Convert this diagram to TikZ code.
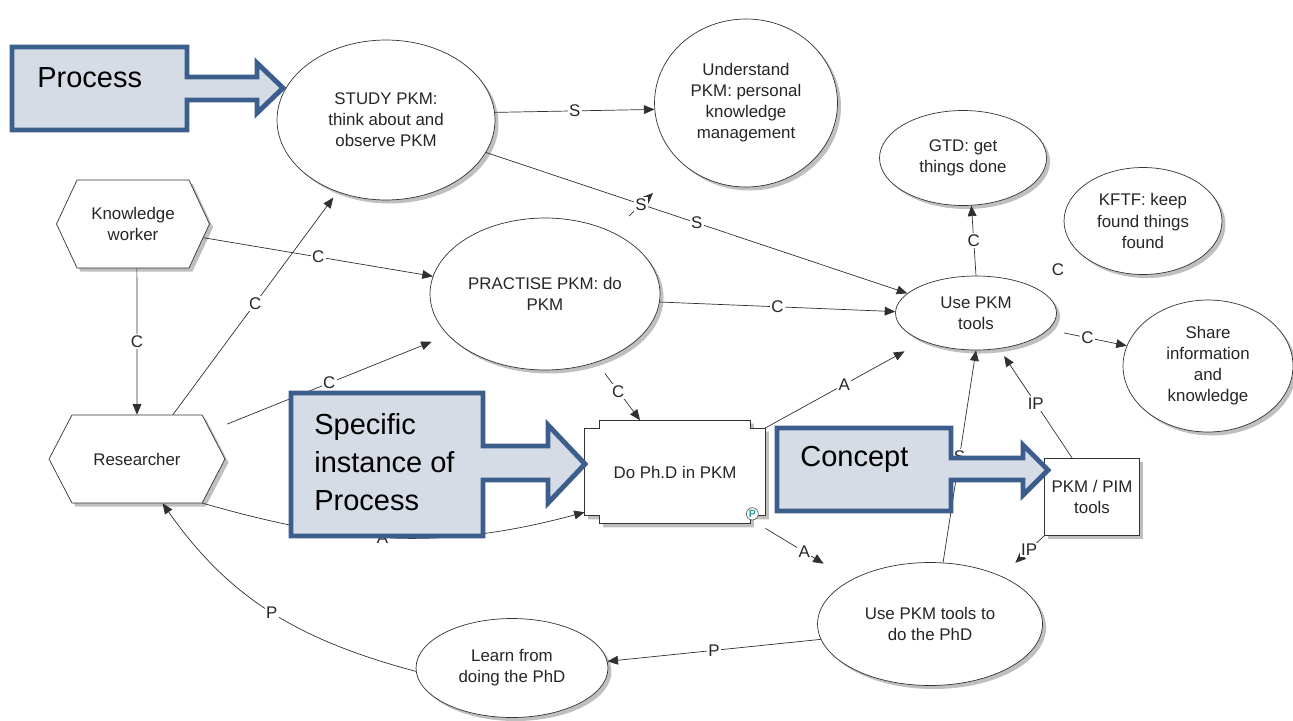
\documentclass[tikz,border=0pt]{standalone}
\usepackage{fontspec}
\setmainfont{Liberation Sans}
\usepackage{tikz}
\usetikzlibrary{shapes.geometric, shapes.symbols, arrows.meta, calc, shadows, backgrounds}

\definecolor{calloutblue}{HTML}{3B5E8C}
\definecolor{calloutfill}{HTML}{D6DCE6}
\definecolor{linkgray}{HTML}{303030}
\definecolor{pteal}{HTML}{2A9D9A}

\begin{document}
\begin{tikzpicture}[
    x=0.02cm, y=0.02cm,
    every node/.style={font=\fontsize{9.6}{12}\selectfont, text=black!85},
    dropsh/.style={drop shadow={shadow xshift=2pt, shadow yshift=-2pt, fill=black!25, opacity=1}},
    bubble/.style={ellipse, draw=black!80, fill=white, inner sep=0pt, align=center, dropsh},
    actor/.style={signal, signal to=east and west, draw=black!80, fill=white, inner sep=0pt, align=center, dropsh},
    toolbox/.style={rectangle, draw=black!80, fill=white, inner sep=0pt, align=center, dropsh},
    link/.style={-{Triangle[length=6pt,width=5pt]}, draw=linkgray, thin},
    lbl/.style={fill=white, inner sep=0.8pt},
    callout/.style={draw=calloutblue, fill=calloutfill, line width=2.8pt, line join=miter},
    callouttext/.style={font=\fontsize{16.5}{21.5}\selectfont, text=black, align=left, anchor=west, inner sep=0pt}
]
\useasboundingbox (0,0) rectangle (1293,-720);

% Processes and goals
\node[bubble, minimum width=4.36cm, minimum height=3.2cm] (study) at (386,-120) {STUDY PKM:\\think about and\\observe PKM};
\node[bubble, minimum width=3.66cm, minimum height=3.36cm] (understand) at (746,-103) {Understand\\PKM: personal\\knowledge\\management};
\node[bubble, minimum width=3.34cm, minimum height=1.9cm] (gtd) at (963,-158) {GTD: get\\things done};
\node[bubble, minimum width=3.16cm, minimum height=2.14cm] (kftf) at (1143,-221) {KFTF: keep\\found things\\found};
\node[bubble, minimum width=3.22cm, minimum height=1.48cm] (usetools) at (976,-313) {Use PKM\\tools};
\node[bubble, minimum width=3.4cm, minimum height=2.64cm] (share) at (1208,-366) {Share\\information\\and\\knowledge};
\node[bubble, minimum width=4.6cm, minimum height=3.04cm] (practise) at (545,-294) {PRACTISE PKM: do\\PKM};
\node[bubble, minimum width=4.5cm, minimum height=2.46cm] (toolsphd) at (930,-624) {Use PKM tools to\\do the PhD};
\node[bubble, minimum width=3.84cm, minimum height=1.98cm] (learn) at (512,-668) {Learn from\\doing the PhD};

% Actors
\node[actor, signal pointer angle=130, minimum width=3.06cm, minimum height=1.76cm] (kworker) at (133,-224) {Knowledge\\worker};
\node[actor, signal pointer angle=125, minimum width=3.52cm, minimum height=1.76cm] (researcher) at (137,-459) {Researcher};

% Specific process and tools
\node[minimum width=3.6cm, minimum height=2.06cm, inner sep=0pt] (phd) at (675,-472) {Do Ph.D in PKM};
\begin{scope}[on background layer]
\draw[draw=black!80, fill=white, dropsh]
  ($(phd.north west)+(15,0)$) -- ($(phd.north east)+(-15,0)$) -- ++(0,-8) -- ++(15,0)
  -- ($(phd.south east)+(0,8)$) -- ++(-15,0) -- ++(0,-8)
  -- ($(phd.south west)+(15,0)$) -- ++(0,8) -- ++(-15,0)
  -- ($(phd.north west)+(0,-8)$) -- ++(15,0) -- cycle;
\end{scope}
\node[ellipse, draw=black!60, fill=white, inner sep=0.4pt, text=pteal, font=\fontsize{6}{6}\selectfont\bfseries] (pmark) at ($(phd.south east)+(-13,10)$) {P};
\node[toolbox, minimum width=1.9cm, minimum height=1.54cm] (pimtools) at (1092,-497) {PKM / PIM\\tools};

% Links
\coordinate (sfrom) at (629,-216);
\coordinate (sto) at (653,-193);
\draw[link] (study.4) -- node[lbl]{S} (understand.184);
\draw[link] (study.342) -- node[lbl]{S} (usetools.164);
\draw[link] (sfrom) -- node[lbl]{S} (sto);
\draw[link] (kworker.349) -- node[lbl]{C} (practise.171);
\draw[link] (kworker.275) -- node[lbl]{C} (researcher.north);
\draw[link, shorten >=4pt] (researcher.51) -- node[lbl]{C} (study.236);
\draw[link, shorten <=10pt, shorten >=10pt] (researcher.21) -- node[lbl]{C} (practise.203);
\draw[link] (researcher.326) to[out=-16, in=195] node[lbl, pos=0.47]{A} (phd.204);
\draw[link] (learn.182) to[out=165, in=-55] node[lbl]{P} (researcher.300);
\draw[link] (toolsphd.188) -- node[lbl]{P} (learn.4);
\draw[link] (practise.356) -- node[lbl]{C} (usetools.179);
\draw[link, shorten <=8pt] (practise.307) -- node[lbl]{C} (phd.124);
\draw[link, shorten >=12pt] (phd.26) -- node[lbl]{A} (usetools.208);
\draw[link, shorten <=5pt, shorten >=18pt] (phd.328) -- node[lbl]{A} (toolsphd.151);
\draw[link] (usetools.north) -- node[lbl]{C} (gtd.-80);
\draw[link, shorten <=9pt] (usetools.347) -- node[lbl]{C} (share.166);
\draw[link] (toolsphd.78) -- node[lbl]{S} (usetools.south);
\draw[link, shorten >=5pt] (pimtools.117) -- node[lbl]{IP} (usetools.303);
\draw[link, shorten >=11pt] (pimtools.south west) -- node[lbl, pos=0.35]{IP} (toolsphd.34);
\node (strayc) at (1058,-270) {C};

% Callouts
\draw[callout] (12,-47) -- (187,-47) -- (187,-77) -- (257,-77) -- (257,-63) -- (283,-88)
  -- (257,-113) -- (257,-100) -- (187,-100) -- (187,-130) -- (12,-130) -- cycle;
\node[callouttext] (proctxt) at (37,-78) {Process};

\draw[callout] (291,-393) -- (483,-393) -- (483,-446) -- (548,-446) -- (548,-425) -- (585,-464)
  -- (548,-503) -- (548,-480) -- (483,-480) -- (483,-536) -- (291,-536) -- cycle;
\node[callouttext] (insttxt) at (314,-462) {Specific\\instance of\\Process};

\draw[callout] (777,-428) -- (951,-428) -- (951,-458) -- (1023,-458) -- (1023,-445) -- (1048,-470)
  -- (1023,-495) -- (1023,-480) -- (951,-480) -- (951,-511) -- (777,-511) -- cycle;
\node[callouttext] (conctxt) at (800,-459) {Concept};

\end{tikzpicture}
\end{document}
